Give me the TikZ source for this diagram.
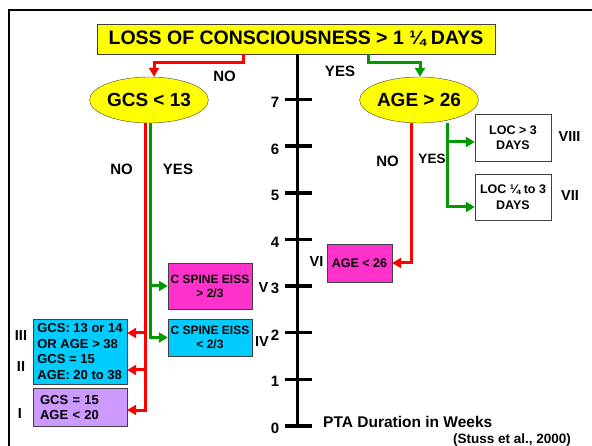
\documentclass[tikz,border=0pt]{standalone}
\usepackage{fontspec}
\setmainfont{Liberation Sans}
\usetikzlibrary{shapes.geometric, arrows.meta}
\newcommand{\pxunit}{1pt}
\definecolor{flowyellow}{RGB}{255,255,0}
\definecolor{flowred}{RGB}{255,0,0}
\definecolor{flowgreen}{RGB}{0,153,0}
\definecolor{boxcyan}{RGB}{0,204,255}
\definecolor{boxmagenta}{RGB}{255,51,204}
\definecolor{boxpurple}{RGB}{204,153,255}

\begin{document}
\begin{tikzpicture}
\useasboundingbox (0,0) rectangle (592*\pxunit,-446*\pxunit);
\tikzstyle{every node}=[font=\bfseries,
			inner sep=0pt,
			text=black
			]
\tikzstyle{question}=[draw=black!75, thin, fill=flowyellow]
\tikzstyle{outcome}=[draw=black!75, thin, align=center]
\tikzstyle{redarrow}=[draw=flowred, line width=3pt, -{Triangle[length=9pt,width=10pt]}]
\tikzstyle{greenarrow}=[draw=flowgreen, line width=3pt, -{Triangle[length=9pt,width=10pt]}]
\tikzstyle{ptaaxis}=[line width=3.5pt]
\tikzstyle{ticklabel}=[anchor=base, font=\bfseries\fontsize{15}{18}\selectfont]
\tikzstyle{branchlabel}=[anchor=base, font=\bfseries\fontsize{15}{18}\selectfont]
\tikzstyle{classlabel}=[anchor=base, font=\bfseries\fontsize{14.5}{17}\selectfont]


\draw[line width=2pt] (592*\pxunit,-10*\pxunit) -- (9*\pxunit,-10*\pxunit) -- (9*\pxunit,-446*\pxunit);


\node[question, minimum width=398*\pxunit, minimum height=30*\pxunit, font=\bfseries\fontsize{19.5}{22}\selectfont] (loc) at (296*\pxunit,-39*\pxunit) {LOSS OF CONSCIOUSNESS > 1 ¼ DAYS};
        

\node[question, ellipse, minimum width=112*\pxunit, minimum height=46*\pxunit, font=\bfseries\fontsize{19}{22}\selectfont] (gcs) at (149*\pxunit,-100*\pxunit) {GCS < 13};
        

\node[question, ellipse, minimum width=112*\pxunit, minimum height=46*\pxunit, font=\bfseries\fontsize{19}{22}\selectfont] (age) at (419*\pxunit,-100*\pxunit) {AGE > 26};
        

\node[outcome, minimum width=76*\pxunit, minimum height=47*\pxunit, font=\bfseries\fontsize{12.5}{15.5}\selectfont] (locA) at (513*\pxunit,-137.5*\pxunit) {LOC > 3\\DAYS};
        

\node[outcome, minimum width=76*\pxunit, minimum height=46*\pxunit, font=\bfseries\fontsize{12.5}{15.5}\selectfont] (locB) at (513*\pxunit,-197*\pxunit) {LOC ¼ to 3\\DAYS};
        

\node[outcome, fill=boxmagenta, minimum width=65*\pxunit, minimum height=38*\pxunit, font=\bfseries\fontsize{12.5}{15}\selectfont] (ageLow) at (359.5*\pxunit,-263*\pxunit) {AGE < 26};
        

\node[outcome, fill=boxmagenta, minimum width=84*\pxunit, minimum height=46*\pxunit, font=\bfseries\fontsize{12}{14}\selectfont] (spineHi) at (210*\pxunit,-286*\pxunit) {C SPINE EISS\\> 2/3};
        

\node[outcome, fill=boxcyan, minimum width=84*\pxunit, minimum height=37*\pxunit, font=\bfseries\fontsize{12}{14}\selectfont] (spineLo) at (210*\pxunit,-337.5*\pxunit) {C SPINE EISS\\< 2/3};
        

\node[outcome, fill=boxcyan, align=left, minimum width=94*\pxunit, minimum height=65*\pxunit, font=\bfseries\fontsize{13}{15.6}\selectfont] (gcsMid) at (80*\pxunit,-351.5*\pxunit) {GCS: 13 or 14\\OR AGE > 38\\GCS = 15\\AGE: 20 to 38};
        

\node[outcome, fill=boxpurple, align=left, text width=80*\pxunit, minimum width=94*\pxunit, minimum height=38*\pxunit, font=\bfseries\fontsize{13}{15.6}\selectfont] (gcsLow) at (80*\pxunit,-407.5*\pxunit) {GCS = 15\\AGE < 20};
        

\draw[redarrow] ([xshift=-53*\pxunit]loc.south) -- ++(0,-8*\pxunit) -| ([xshift=5*\pxunit]gcs.north);
    

\draw[greenarrow] ([xshift=72*\pxunit]loc.south) -- ++(0,-8*\pxunit) -| ([xshift=1*\pxunit]age.north);
    

\coordinate (gcsno) at ([xshift=-4*\pxunit]gcs.south);
\coordinate (gcsyes) at ([xshift=1*\pxunit]gcs.south);
\coordinate (midA) at ([yshift=18.5*\pxunit]gcsMid.east);
\coordinate (midB) at ([yshift=-18.5*\pxunit]gcsMid.east);
\coordinate (lowA) at ([yshift=-2.5*\pxunit]gcsLow.east);


\draw[redarrow] (gcsno) |- (lowA);
    

\draw[redarrow] (gcsno |- midA) -- (midA);
    

\draw[redarrow] (gcsno |- midB) -- (midB);
    

\draw[greenarrow] (gcsyes) |- (spineLo.west);
    

\draw[greenarrow] (gcsyes |- spineHi.west) -- (spineHi.west);
    

\coordinate (ageno) at ([xshift=-8*\pxunit]age.south);
\coordinate (ageyes) at ([xshift=28*\pxunit]age.south);
\coordinate (locAin) at ([yshift=-4.5*\pxunit]locA.west);
\coordinate (locBin) at ([yshift=-10*\pxunit]locB.west);


\draw[redarrow] (ageno) |- (ageLow.east);
    

\draw[greenarrow] (ageyes) |- (locBin);
    

\draw[greenarrow] (ageyes |- locAin) -- (locAin);
    

\coordinate (week0) at (297.5*\pxunit,-426*\pxunit);
\draw[ptaaxis] (week0 |- loc.south) -- (week0);


\draw[ptaaxis] (284.5*\pxunit,-426*\pxunit) -- (311.5*\pxunit,-426*\pxunit);
    

\draw[ptaaxis] (284.5*\pxunit,-379.4*\pxunit) -- (311.5*\pxunit,-379.4*\pxunit);
    

\draw[ptaaxis] (284.5*\pxunit,-332.7*\pxunit) -- (311.5*\pxunit,-332.7*\pxunit);
    

\draw[ptaaxis] (284.5*\pxunit,-286.1*\pxunit) -- (311.5*\pxunit,-286.1*\pxunit);
    

\draw[ptaaxis] (284.5*\pxunit,-239.4*\pxunit) -- (311.5*\pxunit,-239.4*\pxunit);
    

\draw[ptaaxis] (284.5*\pxunit,-192.8*\pxunit) -- (311.5*\pxunit,-192.8*\pxunit);
    

\draw[ptaaxis] (284.5*\pxunit,-146.2*\pxunit) -- (311.5*\pxunit,-146.2*\pxunit);
    

\draw[ptaaxis] (284.5*\pxunit,-99.5*\pxunit) -- (311.5*\pxunit,-99.5*\pxunit);
    

\node[ticklabel] (w0) at (275*\pxunit,-433*\pxunit) {0};
\node[ticklabel] (w1) at (275*\pxunit,-387*\pxunit) {1};
\node[ticklabel] (w2) at (275*\pxunit,-341*\pxunit) {2};
\node[ticklabel] (w3) at (275*\pxunit,-294*\pxunit) {3};
\node[ticklabel] (w4) at (275*\pxunit,-248*\pxunit) {4};
\node[ticklabel] (w5) at (275*\pxunit,-201*\pxunit) {5};
\node[ticklabel] (w6) at (275*\pxunit,-155*\pxunit) {6};
\node[ticklabel] (w7) at (275*\pxunit,-108*\pxunit) {7};


\node[branchlabel] (topno) at (224.5*\pxunit,-82*\pxunit) {NO};
\node[branchlabel] (topyes) at (340*\pxunit,-77*\pxunit) {YES};
\node[branchlabel] (gcsnolabel) at (121.5*\pxunit,-175*\pxunit) {NO};
\node[branchlabel] (gcsyeslabel) at (178*\pxunit,-175*\pxunit) {YES};
\node[branchlabel] (agenolabel) at (387.5*\pxunit,-167*\pxunit) {NO};
\node[branchlabel, font=\bfseries\fontsize{13.5}{16}\selectfont] (ageyeslabel) at (432*\pxunit,-164*\pxunit) {YES};


\node[classlabel] (c1) at (20*\pxunit,-418*\pxunit) {I};
\node[classlabel] (c2) at (21*\pxunit,-372*\pxunit) {II};
\node[classlabel] (c3) at (21*\pxunit,-341*\pxunit) {III};
\node[classlabel] (c4) at (262*\pxunit,-347*\pxunit) {IV};
\node[classlabel] (c5) at (263.5*\pxunit,-293*\pxunit) {V};
\node[classlabel] (c6) at (316.5*\pxunit,-267*\pxunit) {VI};
\node[classlabel] (c7) at (570*\pxunit,-201*\pxunit) {VII};
\node[classlabel] (c8) at (569.5*\pxunit,-142*\pxunit) {VIII};


\node[anchor=base west, font=\bfseries\fontsize{15.5}{18}\selectfont] (ptatitle) at (323*\pxunit,-427*\pxunit) {PTA Duration in Weeks};
\node[anchor=base west, font=\bfseries\fontsize{13.5}{16}\selectfont] (source) at (453*\pxunit,-443*\pxunit) {(Stuss et al., 2000)};
        

\end{tikzpicture}
\end{document}
